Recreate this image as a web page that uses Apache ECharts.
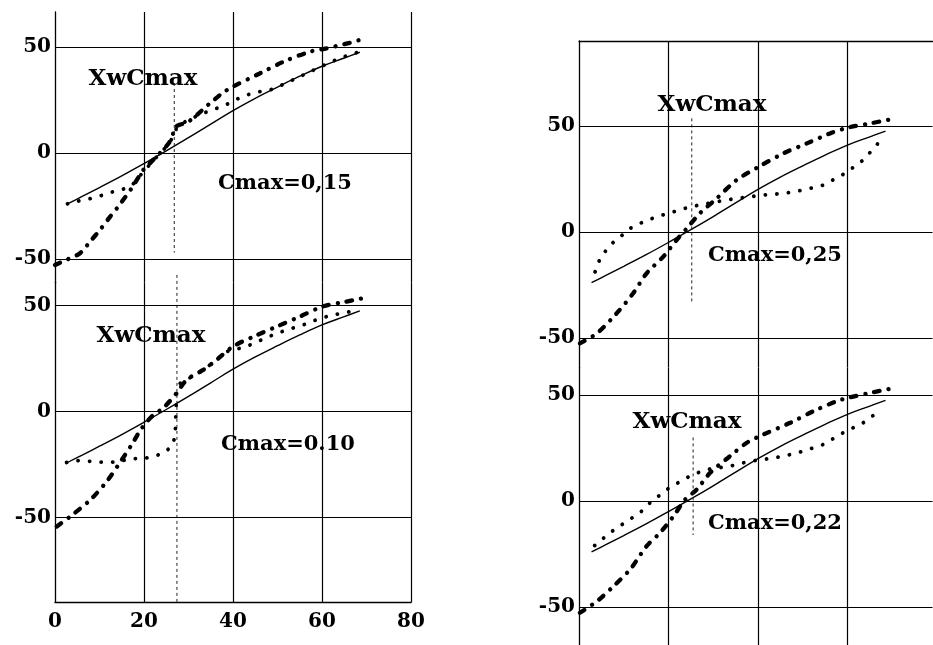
<!DOCTYPE html>
<html><head><meta charset="utf-8">
<script src="https://cdn.jsdelivr.net/npm/echarts@6/dist/echarts.min.js"></script>
<style>html,body{margin:0;padding:0;background:#fff}#c{width:933px;height:645px}</style>
</head><body><div id="c"></div>
<script>
// ---- tick labels ----
const xTickValues = [0, 20, 40, 60, 80];
const xTickLabels = ['0', '20', '40', '60', '80'];
const yTickValues = [50, 0, -50];
const yTickLabels = ['50', '0', '-50'];
const panelTitles = ['Cmax=0,15', 'Cmax=0.10', 'Cmax=0,25', 'Cmax=0,22'];
const markerLabel = 'XwCmax';

// ---- reference (solid) curve, same in every panel ----
const solidX = [2.8, 6, 10, 15, 20, 25, 30, 35, 40, 45, 50, 55, 60, 65, 68.5];
const solidY = [-24, -20.6, -16.3, -10.8, -5, 1, 7.2, 13.6, 20, 25.8, 31.1, 36.2, 40.9, 44.8, 47.5];

// ---- panel 1 : Cmax=0,15 ----
const p1DashX = [0, 3, 5.6, 8, 10.1, 12.4, 14.2, 17.2, 20, 21.3, 23.6, 25.8, 26.6, 27.2, 30, 34.8, 37.8, 40, 46, 51.3, 57.3, 60, 63, 66.3, 68.9];
const p1DashY = [-52.8, -50, -47.3, -41.5, -36.3, -30, -25.3, -16.7, -7.5, -4.9, 0, 5.3, 9.5, 12.5, 14.8, 23.4, 28.5, 31.3, 37.5, 43, 47.8, 48.9, 50.3, 52, 53.6];
const p1DotX = [2.8, 5.6, 8.2, 10.9, 13.1, 15.2, 17.2, 20, 23, 25.5, 26.6, 27.3, 29.7, 33.3, 35.2, 37.8, 40, 42, 44.2, 46, 48.3, 52, 56, 60, 64, 68.5];
const p1DotY = [-24, -22.5, -21.4, -19.8, -18.2, -17.2, -15.5, -8.5, -1.5, 4, 8, 11.6, 15.5, 18.7, 20.3, 22, 24.5, 26.5, 28.1, 28.9, 29.7, 33, 37, 41, 44.8, 47.8];
const p1XwX = [26.8, 26.8];
const p1XwY = [33, -47];

// ---- panel 2 : Cmax=0.10 ----
const p2DashX = [0.4, 3.4, 7.9, 11.6, 14.6, 17.2, 19.5, 22.1, 24.3, 27.3, 29.6, 33.3, 36.3, 40, 44.6, 49.8, 55, 60, 64.5, 69.3];
const p2DashY = [-54.2, -49.5, -41.7, -33, -24, -15.7, -7.8, -1.6, 1.6, 8.7, 15, 19.7, 24.4, 30.7, 35.4, 40.1, 44.8, 49.5, 51.5, 53.5];
const p2DotX = [2.6, 5.6, 8.6, 11.6, 14.6, 16.9, 19.5, 22.1, 24.3, 26.2, 27, 27.1, 27.3, 27.5, 28.8, 31.1, 34.5, 38.6, 42.9, 46, 49, 52, 55.8, 59.6, 62.5, 66.3, 68.3];
const p2DotY = [-24, -23, -23.6, -24, -23.6, -22, -22.3, -21.2, -19.6, -16.5, -11.8, -5.5, 7.9, 11.8, 15, 16.5, 21.5, 28.3, 30.6, 33.5, 36.2, 38.5, 40.9, 44, 45.6, 47.2, 47.6];
const p2XwX = [27.4, 27.4];
const p2XwY = [64.5, -90];

// ---- panel 3 : Cmax=0,25 ----
const p3DashX = [0.2, 4, 8.4, 12.1, 15.1, 18.8, 21.8, 24.1, 27, 30.8, 35.2, 40.2, 45.7, 50.9, 56.1, 60.2, 65, 69.5];
const p3DashY = [-52.6, -47.9, -38.5, -29, -19.6, -11.8, -3.9, 1.6, 8.7, 15.8, 24.4, 30.7, 37, 41.7, 46.4, 49.2, 51.1, 53];
const p3DotX = [3.6, 4.7, 6.9, 9.2, 11.4, 14.4, 17.4, 21.1, 24.8, 27.8, 30.8, 35.2, 41.2, 45.7, 50.1, 54.6, 59.4, 63.5, 66.5, 67.6];
const p3DotY = [-18.9, -12.6, -6.3, -2.4, 1.6, 4.7, 7.1, 9.4, 11.8, 13, 14.2, 15.8, 17.3, 18.1, 19.7, 22, 27.5, 33.8, 40.9, 44];
const p3XwX = [25.2, 25.2];
const p3XwY = [53.5, -33];

// ---- panel 4 : Cmax=0,22 ----
const p4DashX = [0.2, 4, 7.7, 11.4, 15.1, 18.1, 21.1, 23.7, 26.3, 29.3, 33.7, 37.5, 41.2, 47.2, 52.4, 57.6, 60.2, 65, 69.5];
const p4DashY = [-52.7, -47.3, -40.2, -32.3, -21.3, -15, -7.2, 0.7, 5.4, 13.3, 21.1, 27.5, 31.4, 36.9, 42.4, 47.1, 48.7, 51, 52.9];
const p4DotX = [3.5, 6.9, 10.7, 13.6, 15.9, 19.6, 23.3, 25.5, 28.5, 33.7, 38.2, 41.2, 45.7, 50.1, 54.6, 59, 63.5, 67.6];
const p4DotY = [-21, -15, -9.5, -5.6, -0.8, 5.4, 10.1, 12.5, 14.9, 16.4, 18.8, 19.6, 21.1, 23.5, 26.7, 32.2, 36.9, 43.2];
const p4XwX = [25.5, 25.5];
const p4XwY = [30, -16];

// ---------------------------------------------------------------
const zip = (xs, ys) => xs.map((x, i) => [x, ys[i]]);
const FONT = 'DejaVu Serif';
const K = 2.12;     // px per y unit
const KX = 4.45;    // px per x unit (left)
const KXR = 4.475;  // px per x unit (right)

const yRanges = [[-61, 66.5], [-90, 61], [-64, 90], [-68, 63]];
const xRanges = [[0, 80], [0, 80], [0, 79], [0, 79]];

const grids = [
  {left: 55, top: 12, width: 80 * KX, height: (66.5 + 61) * K},
  {left: 55, top: 12 + (66.5 + 61) * K, width: 80 * KX, height: 151 * K},
  {left: 579, top: 41, width: 79 * KXR, height: 154 * K},
  {left: 579, top: 41 + 154 * K, width: 79 * KXR, height: 131 * K}
].map(g => Object.assign(g, {outerBoundsMode: 'none', containLabel: false, show: false}));

const yLabelFmt = v => {
  const i = yTickValues.indexOf(Math.round(v * 1000) / 1000);
  return i >= 0 ? yTickLabels[i] : '';
};
const xLabelFmt = v => {
  const i = xTickValues.indexOf(v);
  return i >= 0 ? xTickLabels[i] : '';
};

const yAxes = yRanges.map((r, i) => ({
  type: 'value', gridIndex: i, min: r[0], max: r[1], interval: 1,
  axisLine: {show: true, onZero: false, lineStyle: {color: '#000', width: 1.3}},
  axisTick: {show: false},
  splitLine: {show: false},
  axisLabel: {show: true, formatter: yLabelFmt, color: '#000', fontFamily: FONT,
              fontWeight: 'bold', fontSize: 20, margin: 4}
}));

const xAxes = xRanges.map((r, i) => ({
  type: 'value', gridIndex: i, min: r[0], max: r[1], interval: 20,
  position: i === 2 ? 'top' : 'bottom',
  axisLine: {show: i === 1 || i === 2, onZero: false, lineStyle: {color: '#000', width: 1.3}},
  axisTick: {show: false},
  splitLine: {show: true, showMinLine: false, showMaxLine: i < 2,
              lineStyle: {color: '#000', width: 1.2}},
  axisLabel: {show: i === 1, formatter: xLabelFmt, color: '#000', fontFamily: FONT,
              fontWeight: 'bold', fontSize: 20, margin: 9}
}));

const panels = [
  {dash: zip(p1DashX, p1DashY), dot: zip(p1DotX, p1DotY), xw: zip(p1XwX, p1XwY)},
  {dash: zip(p2DashX, p2DashY), dot: zip(p2DotX, p2DotY), xw: zip(p2XwX, p2XwY)},
  {dash: zip(p3DashX, p3DashY), dot: zip(p3DotX, p3DotY), xw: zip(p3XwX, p3XwY)},
  {dash: zip(p4DashX, p4DashY), dot: zip(p4DotX, p4DotY), xw: zip(p4XwX, p4XwY)}
];

const series = [];
panels.forEach((p, i) => {
  const base = {type: 'line', xAxisIndex: i, yAxisIndex: i, symbol: 'none', silent: true,
                animation: false, clip: false};
  series.push(Object.assign({}, base, {
    name: 'solid' + i, data: zip(solidX, solidY), smooth: 0.4,
    lineStyle: {color: '#000', width: 1.4, type: 'solid'},
    markLine: {silent: true, symbol: 'none', animation: false, label: {show: false},
               lineStyle: {color: '#000', width: 1.2, type: 'solid'},
               data: yTickValues.map(v => ({yAxis: v}))}
  }));
  series.push(Object.assign({}, base, {
    name: 'dot' + i, data: p.dot, smooth: false,
    lineStyle: {color: '#000', width: 3.8, type: [0.1, 11.5], cap: 'round'}
  }));
  series.push(Object.assign({}, base, {
    name: 'dash' + i, data: p.dash, smooth: 0.3,
    lineStyle: {color: '#000', width: 4.3, type: [5.5, 9, 0.1, 9], cap: 'round'}
  }));
  series.push(Object.assign({}, base, {
    name: 'xw' + i, data: p.xw,
    lineStyle: {color: '#222', width: 1, type: [3, 3]}
  }));
});

const textPos = [
  [[143, 79], [285, 184]],
  [[151, 336.5], [288, 445]],
  [[712, 105], [775, 256]],
  [[687, 422.5], [775, 524]]
];
const graphic = [];
textPos.forEach((tp, i) => {
  [markerLabel, panelTitles[i]].forEach((t, j) => {
    graphic.push({type: 'text', x: tp[j][0], y: tp[j][1], silent: true,
      style: {text: t, fill: '#000', fontFamily: FONT, fontWeight: 'bold',
              fontSize: j === 0 ? 23 : 21, align: 'center', verticalAlign: 'middle'}});
  });
});

const chart = echarts.init(document.getElementById('c'), null, {renderer: 'canvas'});
chart.setOption({
  animation: false,
  backgroundColor: '#fff',
  grid: grids,
  xAxis: xAxes,
  yAxis: yAxes,
  series: series,
  graphic: graphic
});
</script>
</body></html>
